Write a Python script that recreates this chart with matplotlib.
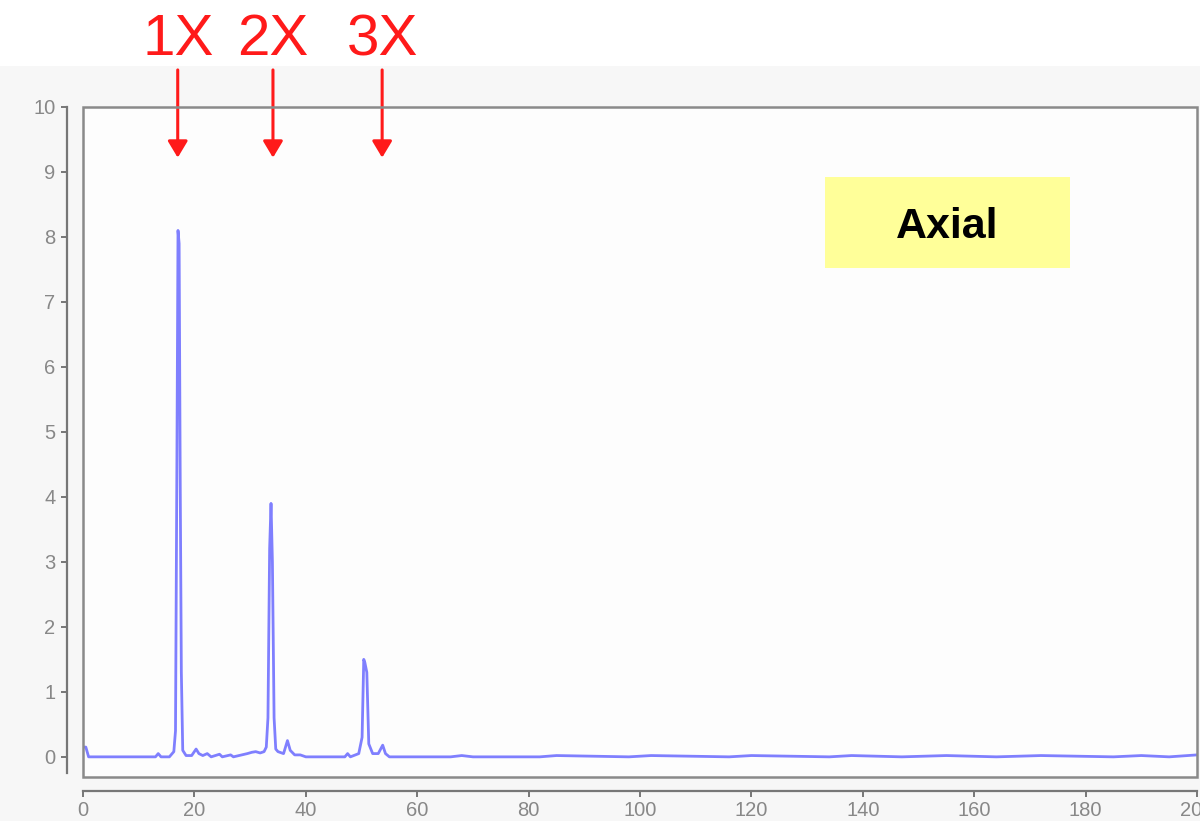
import matplotlib
matplotlib.use("Agg")
import matplotlib.pyplot as plt
from matplotlib.patches import Rectangle

# Vibration spectrum (axial direction): frequency vs amplitude
freq = [0, 0.5, 1.0, 13.0, 13.5, 14.0, 15.5, 16.3, 16.6, 16.85, 17.05, 17.25, 17.45,
        17.65, 17.9, 18.5, 19.5, 20.3, 20.8, 21.5, 22.3, 23.0, 24.5, 25.0, 26.5,
        27.0, 28.5, 29.5, 30.3, 31.0, 31.8, 32.5, 32.9, 33.2, 33.5, 33.75, 34.0,
        34.3, 34.6, 35.0, 36.0, 36.7, 37.2, 38.0, 39.0, 40.0, 47.0, 47.5, 48.0,
        49.5, 50.1, 50.4, 50.6, 50.95, 51.3, 52.0, 53.0, 53.8, 54.3, 55.0, 66.0,
        68.0, 70.0, 82.0, 85.0, 98.0, 102.0, 116.0, 120.0, 134.0, 138.0, 147.0,
        155.0, 164.0, 172.0, 185.0, 190.0, 195.0, 200.0]
amp = [0.15, 0.15, 0.0, 0.0, 0.05, 0.0, 0.0, 0.08, 0.4, 4.5, 8.1, 7.9, 4.2,
       1.3, 0.1, 0.02, 0.02, 0.12, 0.05, 0.02, 0.05, 0.0, 0.04, 0.0, 0.03,
       0.0, 0.03, 0.05, 0.07, 0.08, 0.06, 0.08, 0.15, 0.6, 3.2, 3.9, 3.0,
       0.6, 0.12, 0.08, 0.05, 0.25, 0.1, 0.03, 0.03, 0.0, 0.0, 0.05, 0.0,
       0.05, 0.3, 1.5, 1.45, 1.3, 0.2, 0.05, 0.05, 0.18, 0.05, 0.0, 0.0,
       0.02, 0.0, 0.0, 0.02, 0.0, 0.02, 0.0, 0.02, 0.0, 0.02, 0.0,
       0.02, 0.0, 0.02, 0.0, 0.02, 0.0, 0.03]

harmonic_labels = ["1X", "2X", "3X"]
label_x = [17.0, 34.1, 53.7]
panel_title = "Axial"

x_ticks = list(range(0, 201, 20))
y_ticks = list(range(0, 11))

plt.rcParams["font.family"] = ["Liberation Sans", "DejaVu Sans"]

fig = plt.figure(figsize=(12, 8.21), dpi=100, facecolor="#f7f7f7")
# white strip across the top, behind everything
fig.add_artist(Rectangle((0, 0.92), 1, 0.08, transform=fig.transFigure,
                         facecolor="white", edgecolor="none", zorder=-10))

ax = fig.add_axes([0.0692, 0.0536, 0.9283, 0.8161])
ax.set_zorder(1)
ax.set_facecolor("#fdfdfd")
ax.set_xlim(0, 200)
ax.set_ylim(-0.31, 10)

ax.plot(freq, amp, color="#4a4aff", lw=2.0, alpha=0.7, solid_joinstyle="round")

# frame around the plotting area
ax.add_patch(Rectangle((0, 0), 1, 1, transform=ax.transAxes, fill=False,
                       edgecolor="#8a8a8a", lw=1.8, clip_on=False, zorder=5))

for s in ("top", "right"):
    ax.spines[s].set_visible(False)
ax.spines["left"].set_position(("outward", 11.5))
ax.spines["bottom"].set_position(("outward", 10))
ax.spines["left"].set_bounds(-0.25, 10)
ax.spines["bottom"].set_bounds(0, 200)
for s in ("left", "bottom"):
    ax.spines[s].set_color("#777777")
    ax.spines[s].set_linewidth(1.6)

ax.set_xticks(x_ticks)
ax.set_yticks(y_ticks)
ax.tick_params(axis="both", colors="#777777", labelcolor="#888888",
               labelsize=14.5, length=4.5, width=1.4, direction="out")
ax.tick_params(axis="y", pad=4)
ax.tick_params(axis="x", pad=3)

# harmonic markers above the peaks
for lbl, xv in zip(harmonic_labels, label_x):
    ax.annotate("", xy=(xv, 9.22), xytext=(xv, 10.57),
                xycoords="data", textcoords="data", annotation_clip=False,
                arrowprops=dict(arrowstyle="-|>,head_length=1.0,head_width=0.6",
                                color="#ff1a1a", lw=2.2, shrinkA=0, shrinkB=0))
    ax.text(xv, 11.03, lbl, color="#ff1a1a", fontsize=42, ha="center",
            va="center", clip_on=False)

# direction label on a yellow panel
ax.add_patch(Rectangle((133.3, 7.52), 43.9, 1.40, facecolor="#ffff99",
                       edgecolor="none", zorder=3))
ax.text(155.1, 8.15, panel_title, fontsize=31, fontweight="bold", color="black",
        ha="center", va="center", zorder=4)

fig.savefig("out.png", dpi=100, facecolor=fig.get_facecolor())
